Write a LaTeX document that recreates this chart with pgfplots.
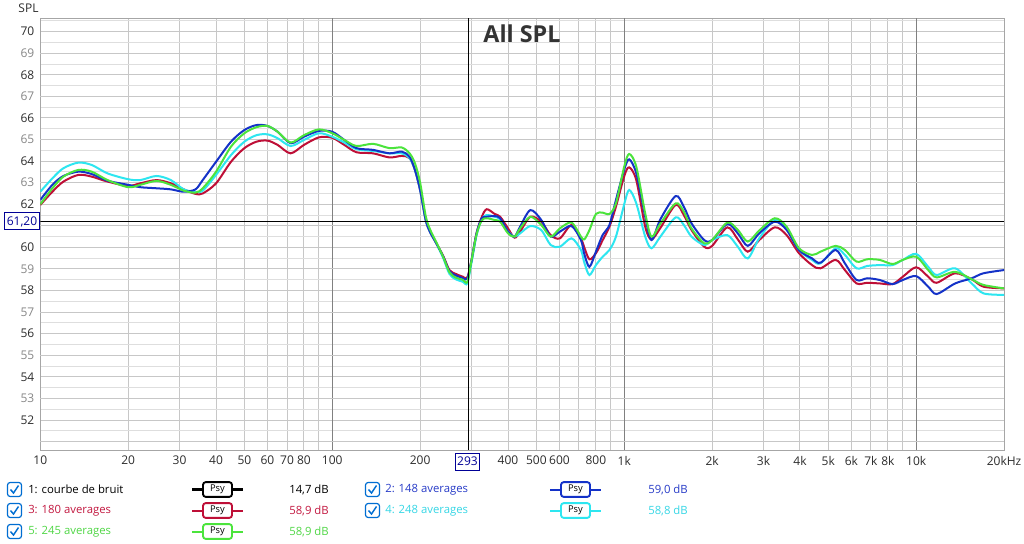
\documentclass[border=0pt]{standalone}
\usepackage{fontspec}
\setmainfont{Open Sans}
\usepackage{pgfplots}
\usepackage{pgfplotstable}
\pgfplotsset{compat=1.18}
\definecolor{cBlue}{RGB}{20,50,200}
\definecolor{cRed}{RGB}{190,15,55}
\definecolor{cCyan}{RGB}{45,230,240}
\definecolor{cGreen}{RGB}{75,228,60}
\definecolor{tBlue}{RGB}{40,60,200}
\definecolor{tRed}{RGB}{195,25,65}
\definecolor{tCyan}{RGB}{55,215,230}
\definecolor{tGreen}{RGB}{80,215,70}
\definecolor{chkblue}{RGB}{0,110,210}
\definecolor{labdark}{RGB}{45,45,45}
\definecolor{labgray}{RGB}{135,135,135}
\definecolor{navy}{RGB}{0,0,150}
\pgfplotstableread{
f B R C G
10 62.20 61.97 62.58 62.00
11 62.90 62.58 63.20 62.74
12 63.31 63.05 63.67 63.28
13.5 63.51 63.36 63.93 63.59
15 63.40 63.28 63.82 63.51
17 63.09 63.05 63.43 63.12
20 62.90 62.85 63.16 62.79
22 62.79 62.97 63.12 62.90
25 62.74 63.12 63.31 63.08
28 62.69 62.97 63.12 62.90
31 62.58 62.69 62.69 62.63
34 62.69 62.48 62.58 62.54
36 63.12 62.50 62.63 62.74
40 63.97 62.97 63.36 63.51
45 64.90 63.97 64.28 64.67
50 65.44 64.60 64.90 65.29
55 65.67 64.90 65.20 65.57
60 65.63 64.95 65.24 65.63
65 65.36 64.75 65.06 65.36
72 64.83 64.36 64.70 64.86
80 65.13 64.75 64.98 65.20
90 65.40 65.10 65.29 65.47
100 65.36 65.08 65.13 65.29
110 64.98 64.75 64.86 64.98
121 64.60 64.41 64.55 64.70
138 64.52 64.36 64.47 64.80
157 64.36 64.17 64.36 64.60
173 64.44 64.24 64.36 64.63
184 64.20 64.14 64.14 64.36
192 63.59 63.59 63.59 63.90
200 62.66 62.66 62.66 63.00
209 61.27 61.27 61.27 61.45
216 60.73 60.73 60.73 60.85
227 60.20 60.20 60.20 60.25
240 59.57 59.60 59.50 59.55
252 58.90 58.95 58.77 58.85
265 58.70 58.77 58.52 58.60
280 58.58 58.64 58.41 58.50
290 58.55 58.60 58.33 58.40
300 59.42 59.42 59.30 59.40
312 60.65 60.65 60.55 60.60
325 61.35 61.40 61.30 61.25
338 61.42 61.77 61.50 61.35
360 61.45 61.55 61.42 61.27
376 61.35 61.42 61.30 61.19
400 60.73 60.88 60.73 60.65
421 60.50 60.45 60.50 60.50
440 60.96 60.73 60.65 60.88
477 61.73 61.42 60.99 61.42
520 61.27 61.19 60.80 61.04
560 60.50 60.57 60.11 60.50
602 60.73 60.42 60.03 60.88
660 60.99 61.04 60.42 61.15
711 60.34 60.42 59.88 60.50
730 59.70 60.00 59.30 60.37
760 59.10 59.45 58.72 60.80
800 59.80 59.73 59.18 61.55
844 60.58 60.34 59.57 61.61
890 61.04 60.96 59.88 61.55
937 62.20 61.89 60.50 62.04
1000 63.60 63.30 62.00 63.74
1040 64.08 63.71 62.66 64.33
1100 63.43 63.12 62.04 63.74
1180 61.43 60.96 60.50 61.58
1240 60.34 60.37 59.96 60.50
1330 61.30 60.90 60.50 61.10
1500 62.38 61.97 61.39 62.04
1600 61.89 61.50 61.04 61.66
1700 61.12 60.81 60.50 60.88
1880 60.34 60.03 60.11 60.19
2000 60.34 60.07 60.34 60.34
2255 61.08 60.93 60.57 61.15
2450 60.65 60.37 60.03 60.81
2650 60.07 59.80 59.49 60.27
2900 60.65 60.34 60.42 60.78
3280 61.19 60.93 61.27 61.35
3600 60.81 60.57 60.84 60.96
3970 59.88 59.73 59.88 59.96
4400 59.49 59.18 59.42 59.65
4700 59.29 59.03 59.26 59.80
5300 59.88 59.42 59.96 60.07
5700 59.26 58.95 59.65 59.88
6250 58.49 58.33 59.03 59.34
6800 58.57 58.36 59.14 59.45
7500 58.49 58.33 59.18 59.42
8300 58.30 58.30 59.18 59.23
9000 58.49 58.64 59.42 59.42
10000 58.67 59.08 59.70 59.57
11000 58.18 58.64 59.10 58.95
11750 57.84 58.36 58.72 58.61
13600 58.33 58.80 59.03 58.87
15500 58.57 58.52 58.33 58.52
17000 58.80 58.18 57.87 58.26
20000 58.95 58.10 57.80 58.10
}\spl
\newcommand{\chk}[2]{%
  \draw[chkblue, line width=0.9pt, rounded corners=2pt, fill=white] (#1-7,#2-7) rectangle (#1+7,#2+7);
  \draw[chkblue, line width=1.1pt] (#1-4,#2) -- (#1-1,#2+3.5) -- (#1+4,#2-4);}
\newcommand{\psybox}[4]{%
  \draw[#3, line width=#4] (#1-25.5,#2) -- (#1+25.5,#2);
  \node[draw=#3, fill=white, line width=1.4pt, rounded corners=2pt, minimum width=21.75pt, minimum height=11pt, inner sep=0pt, font=\fontsize{7}{8}\selectfont] at (#1,#2) {Psy};}
\begin{document}
\begin{tikzpicture}
\useasboundingbox (0,0) rectangle (768pt,407.25pt);
\fill[white] (0,0) rectangle (768pt,407.25pt);
\begin{axis}[
  at={(30.225pt,69.75pt)}, anchor=south west,
  width=722.8pt, height=323.8pt, scale only axis,
  xmode=log, log basis x=10,
  xmin=10, xmax=20000, ymin=50.61, ymax=70.62,
  xtick={10,20,30,40,50,60,70,80,90,100,200,300,400,500,600,700,800,900,1000,2000,3000,4000,5000,6000,7000,8000,9000,10000,20000},
  xticklabels={10,20,30,40,50,60,70,80,{},100,200,{},400,500,600,{},800,{},1k,2k,3k,4k,5k,6k,7k,8k,{},10k,20kHz},
  ytick={52,54,...,70},
  extra y ticks={51,53,55,57,59,61,63,65,67,69},
  extra y tick labels={{},53,55,57,59,{},63,65,67,69},
  extra y tick style={grid=major, yticklabel style={text=labgray}},
  minor ytick={50.5,51.5,...,70.5},
  extra x ticks={100,1000,10000},
  extra x tick labels={},
  extra x tick style={grid=major, major grid style={draw=black!50, line width=0.75pt}},
  grid=both,
  major grid style={draw=black!22, line width=0.75pt},
  minor grid style={draw=black!13, line width=0.75pt},
  major tick length=0pt, minor tick length=0pt,
  axis line style={draw=black!35, line width=0.75pt},
  ticklabel style={font=\fontsize{9}{10}\selectfont, text=labdark},
  /pgf/number format/assume math mode=true,
  yticklabel style={xshift=-1pt},
  xticklabel style={yshift=-1pt},
]
\addplot[cRed, line width=1.5pt, smooth, tension=0.5] table[x=f,y=R] {\spl};
\addplot[cCyan, line width=1.5pt, smooth, tension=0.5] table[x=f,y=C] {\spl};
\addplot[cBlue, line width=1.5pt, smooth, tension=0.5] table[x=f,y=B] {\spl};
\addplot[cGreen, line width=1.5pt, smooth, tension=0.5] table[x=f,y=G] {\spl};
\addplot[black, line width=0.75pt] coordinates {(10,61.2) (20000,61.2)};
\addplot[black, line width=0.75pt] coordinates {(293,50.61) (293,70.62)};
\end{axis}
\begin{scope}[x=0.75pt, y=-0.75pt, shift={(0pt,407.25pt)}]
\node[font=\fontsize{9}{10}\selectfont, text=labdark] at (28.5,8.5) {SPL};
\node[font=\bfseries\fontsize{17.5}{18}\selectfont, text=black!80] at (522,34) {All SPL};
\node[draw=navy, fill=white, line width=0.75pt, text=navy, inner sep=1.5pt, minimum height=12.75pt, font=\fontsize{9}{10}\selectfont] at (22,221.5) {61,20};
\node[draw=navy, fill=white, line width=0.75pt, text=navy, inner sep=1.5pt, minimum height=12.75pt, font=\fontsize{9}{10}\selectfont] at (467.5,461.5) {293};
% legend
\begin{scope}[every node/.style={font=\fontsize{8.5}{10}\selectfont, anchor=west, inner sep=0pt}]
\chk{14.5}{489.5} \chk{14.5}{510.5} \chk{14.5}{531.5}
\chk{372.5}{489.5} \chk{372.5}{510.5}
\node[text=black] at (28,489.5) {1: courbe de bruit};
\node[text=tRed] at (28,510.5) {3: 180 averages};
\node[text=tGreen] at (28,531.5) {5: 245 averages};
\node[text=tBlue] at (385,489.5) {2: 148 averages};
\node[text=tCyan] at (385,510.5) {4: 248 averages};
\node[text=black] at (289,489.5) {14,7 dB};
\node[text=tRed] at (289,510.5) {58,9 dB};
\node[text=tGreen] at (289,531.5) {58,9 dB};
\node[text=tBlue] at (648,489.5) {59,0 dB};
\node[text=tCyan] at (648,510.5) {58,8 dB};
\end{scope}
\psybox{217.5}{489.5}{black}{2.25pt}
\psybox{217.5}{510.5}{cRed}{1.5pt}
\psybox{217.5}{531.5}{cGreen}{1.5pt}
\psybox{575.5}{489.5}{cBlue}{1.5pt}
\psybox{575.5}{510.5}{cCyan}{1.5pt}
\end{scope}
\end{tikzpicture}
\end{document}
